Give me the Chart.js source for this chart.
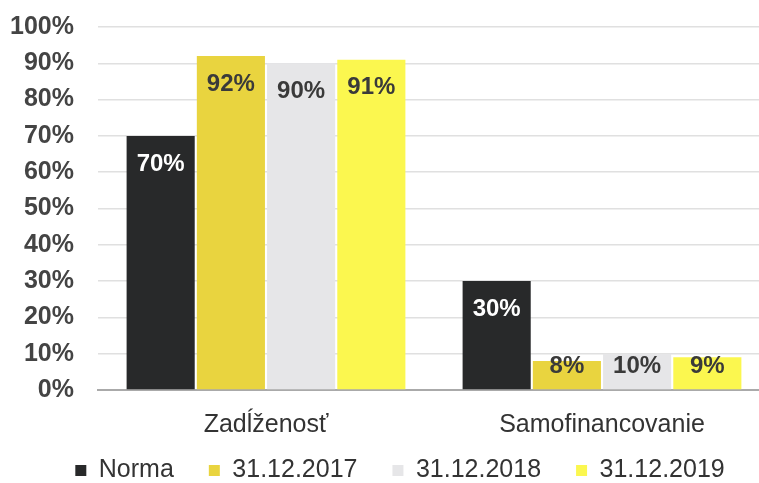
<!DOCTYPE html>
<html>
<head>
<meta charset="utf-8">
<script src="https://cdn.jsdelivr.net/npm/chart.js@4/dist/chart.umd.min.js"></script>
<style>
  html, body { margin: 0; padding: 0; background: #fff; overflow: hidden; }
  canvas { display: block; }
</style>
</head>
<body>
<canvas id="chart" width="770" height="483"></canvas>
<script>
// data
const categories = ['Zadĺženosť', 'Samofinancovanie'];
const seriesNames = ['Norma', '31.12.2017', '31.12.2018', '31.12.2019'];
const norma = [70, 30];
const y2017 = [92, 8];
const y2018 = [90, 10];
const y2019 = [91, 9];
const yTicks = [0, 10, 20, 30, 40, 50, 60, 70, 80, 90, 100];

const colors = ['#28292a', '#e9d43f', '#e6e6e8', '#fbf74f'];
const FONT = '"Liberation Sans", Arial, sans-serif';

// labels inside the top of each bar
const barLabels = {
    id: 'barLabels',
    afterDatasetsDraw(chart) {
        const ctx = chart.ctx;
        ctx.save();
        ctx.font = 'bold 24px ' + FONT;
        ctx.textAlign = 'center';
        ctx.textBaseline = 'middle';
        chart.data.datasets.forEach((ds, i) => {
            const meta = chart.getDatasetMeta(i);
            meta.data.forEach((bar, j) => {
                const y = Math.min(bar.y + 28, bar.base - 23);
                ctx.fillStyle = i === 0 ? '#ffffff' : '#3a3a3a';
                ctx.fillText(ds.data[j] + '%', bar.x, y);
            });
        });
        ctx.restore();
    }
};

// nudge the legend up/right so it sits like the original
const legendNudge = {
    id: 'legendNudge',
    afterLayout(chart) {
        const lg = chart.legend;
        if (!lg) return;
        lg.top -= 17;
        lg.left += 15; lg.right += 15;
    }
};

const values = [norma, y2017, y2018, y2019];

new Chart(document.getElementById('chart'), {
    type: 'bar',
    data: {
        labels: categories,
        datasets: seriesNames.map((name, i) => ({
            label: name,
            data: values[i],
            backgroundColor: colors[i],
            categoryPercentage: 0.836,
            barPercentage: 0.97
        }))
    },
    options: {
        responsive: false,
        animation: false,
        devicePixelRatio: 1,
        layout: { padding: { top: 27, left: 0, right: 0, bottom: 0 } },
        plugins: {
            tooltip: { enabled: false },
            legend: {
                position: 'bottom',
                maxHeight: 43,
                labels: {
                    font: { family: FONT, size: 25 },
                    color: '#333',
                    boxWidth: 11,
                    boxHeight: 11,
                    padding: 35
                }
            }
        },
        scales: {
            x: {
                grid: { display: false, drawTicks: false },
                border: { color: '#aaaaaa', width: 2 },
                ticks: {
                    font: { family: FONT, size: 25 },
                    color: '#333',
                    padding: 20
                },
                afterFit(scale) { scale.height = 50; }
            },
            y: {
                min: 0,
                max: 100,
                afterBuildTicks(scale) {
                    scale.ticks = yTicks.map(v => ({ value: v }));
                },
                grid: { color: '#e0e0e0', lineWidth: 1.5, drawTicks: false },
                border: { display: false },
                ticks: {
                    font: { family: FONT, size: 25, weight: 'bold' },
                    color: '#444',
                    padding: 24,
                    callback: v => v + '%'
                },
                afterFit(scale) {
                    scale.width = 98;
                    scale.paddingTop = 0;
                    scale.paddingBottom = 0;
                }
            }
        }
    },
    plugins: [barLabels, legendNudge]
});
</script>
</body>
</html>
